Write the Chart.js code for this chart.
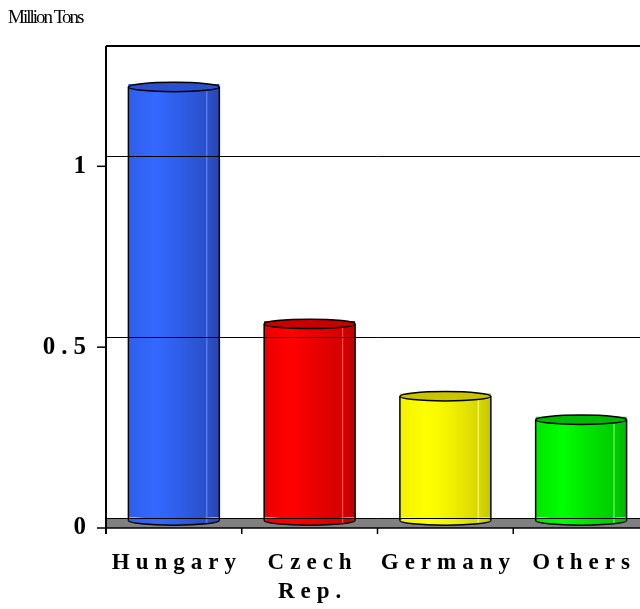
<!DOCTYPE html>
<html>
<head>
<meta charset="utf-8">
<script src="https://cdn.jsdelivr.net/npm/chart.js@4"></script>
<style>
  html, body { margin: 0; padding: 0; background: #fff; overflow: hidden; }
  canvas { display: block; }
</style>
</head>
<body>
<canvas id="chart" width="652" height="609"></canvas>
<script>
// ======== Data ========
const categories = ['Hungary', ['Czech', 'Rep.'], 'Germany', 'Others'];
const tonnage = [1.2, 0.545, 0.345, 0.28];
const yTicks = [0, 0.5, 1];
const yMax = 1.305;
const unitLabel = 'Million Tons';

// ======== Style ========
const SERIF = '"Liberation Serif", "Times New Roman", serif';
const BAR_PCT = 0.67;
const DEPTH = 10;      // back wall -> front edge of the floor
const FRONT = 3;       // cylinder centre sits a bit in front of the back wall
const CAP_RY = 4.7;

const shades = [
    { mid: '#2f5eea', light: '#3468ff', dark: '#2b50c8', darker: '#2745b4', shine: '#5f82ff', top: '#2c50cc' },
    { mid: '#ec0000', light: '#ff0000', dark: '#d40000', darker: '#c00000', shine: '#ff5050', top: '#c80000' },
    { mid: '#f2f200', light: '#ffff00', dark: '#d8d800', darker: '#c4c400', shine: '#ffff80', top: '#c8c400' },
    { mid: '#00e600', light: '#00ff00', dark: '#00cc00', darker: '#00b800', shine: '#70ff70', top: '#00b800' },
];

function sideGradient(ctx, left, width, s) {
    const g = ctx.createLinearGradient(left, 0, left + width, 0);
    g.addColorStop(0, s.mid);
    g.addColorStop(0.3, s.light);
    g.addColorStop(0.55, s.mid);
    g.addColorStop(0.85, s.dark);
    g.addColorStop(0.86, s.shine);
    g.addColorStop(0.875, s.dark);
    g.addColorStop(1, s.darker);
    return g;
}

function line(ctx, x1, y1, x2, y2, w) {
    ctx.beginPath();
    ctx.lineWidth = w;
    ctx.moveTo(x1, y1);
    ctx.lineTo(x2, y2);
    ctx.stroke();
}

// ======== Plugins ========
const textSpacing = {
    id: 'textSpacing',
    beforeDraw(chart) {
        chart.ctx.letterSpacing = '6px';
    },
    afterDraw(chart) {
        const ctx = chart.ctx;
        ctx.save();
        ctx.letterSpacing = '-2px';
        ctx.font = '19px ' + SERIF;
        ctx.fillStyle = '#000';
        ctx.textAlign = 'left';
        ctx.textBaseline = 'alphabetic';
        ctx.fillText(unitLabel, 8, 23);
        ctx.restore();
        ctx.letterSpacing = '0px';
    }
};

const floorAndFrame = {
    id: 'floorAndFrame',
    beforeDatasetsDraw(chart) {
        const ctx = chart.ctx;
        const { left, right, top, bottom } = chart.chartArea;
        const ys = chart.scales.y;
        const front = bottom + DEPTH;
        ctx.save();
        ctx.fillStyle = '#808080';
        ctx.fillRect(left, bottom, right - left, DEPTH);
        ctx.strokeStyle = '#000';
        line(ctx, left, front, right, front, 1.5);
        line(ctx, left, top, right, top, 2);
        line(ctx, left, top, left, front + 6, 2);
        yTicks.forEach(v => {
            const py = ys.getPixelForValue(v) + DEPTH;
            line(ctx, left - 9, py, left, py, 1.5);
        });
        const step = (right - left) / categories.length;
        for (let k = 1; k < categories.length; k++) {
            const px = left + k * step;
            line(ctx, px, front, px, front + 6, 1.5);
        }
        ctx.restore();

        // shade each cylinder side from where the library placed it
        chart.getDatasetMeta(0).data.forEach((bar, i) => {
            const { x, width } = bar.getProps(['x', 'width'], true);
            if (isFinite(x) && isFinite(width)) {
                bar.options.backgroundColor = sideGradient(ctx, x - width / 2, width, shades[i]);
            }
        });
    }
};

const cylinderCaps = {
    id: 'cylinderCaps',
    afterDatasetsDraw(chart) {
        const ctx = chart.ctx;
        const meta = chart.getDatasetMeta(0);
        meta.data.forEach((bar, i) => {
            const { x, y, base, width } = bar.getProps(['x', 'y', 'base', 'width'], true);
            const left = x - width / 2;
            const topY = y + FRONT;
            const botY = base + FRONT;
            ctx.save();
            ctx.strokeStyle = '#000';
            // bottom cap
            ctx.beginPath();
            ctx.ellipse(x, botY, width / 2, CAP_RY, 0, 0, Math.PI * 2);
            ctx.fillStyle = bar.options.backgroundColor;
            ctx.fill();
            ctx.beginPath();
            ctx.lineWidth = 1.5;
            ctx.ellipse(x, botY, width / 2, CAP_RY, 0, 0, Math.PI);
            ctx.stroke();
            // sides
            line(ctx, left, topY, left, botY, 1.5);
            line(ctx, left + width, topY, left + width, botY, 1.5);
            // top cap
            ctx.beginPath();
            ctx.ellipse(x, topY, width / 2, CAP_RY, 0, 0, Math.PI * 2);
            ctx.fillStyle = shades[i].top;
            ctx.fill();
            ctx.stroke();
            ctx.restore();
        });
    }
};

// ======== Chart ========
new Chart(document.getElementById('chart').getContext('2d'), {
    type: 'bar',
    data: {
        labels: categories,
        datasets: [{
            data: tonnage,
            borderWidth: 0,
            categoryPercentage: 1,
            barPercentage: BAR_PCT,
            backgroundColor: (c) => (shades[c.dataIndex] || shades[0]).mid,
        }],
    },
    options: {
        responsive: false,
        animation: false,
        layout: { padding: { top: 46, right: 3, left: 0, bottom: 0 } },
        plugins: {
            legend: { display: false },
            tooltip: { enabled: false },
            title: { display: false },
        },
        scales: {
            x: {
                grid: { display: false },
                border: { display: false },
                afterFit: (s) => { s.height = 91; },
                ticks: {
                    autoSkip: false,
                    maxRotation: 0,
                    padding: 23,
                    labelOffset: 3,
                    color: '#000',
                    font: { family: SERIF, size: 23, weight: 'bold', lineHeight: 1.26 },
                },
            },
            y: {
                min: 0,
                max: yMax,
                afterFit: (s) => { s.width = 106; },
                afterBuildTicks: (s) => {
                    s.ticks = s.ticks.filter(t => yTicks.includes(t.value));
                },
                grid: { color: '#000', lineWidth: 1, drawTicks: false, z: 1 },
                border: { display: false },
                ticks: {
                    stepSize: 0.5,
                    padding: 14,
                    labelOffset: 10,
                    color: '#000',
                    font: { family: SERIF, size: 25, weight: 'bold' },
                    callback: (v) => String(v),
                },
            },
        },
    },
    plugins: [textSpacing, floorAndFrame, cylinderCaps],
});
</script>
</body>
</html>
